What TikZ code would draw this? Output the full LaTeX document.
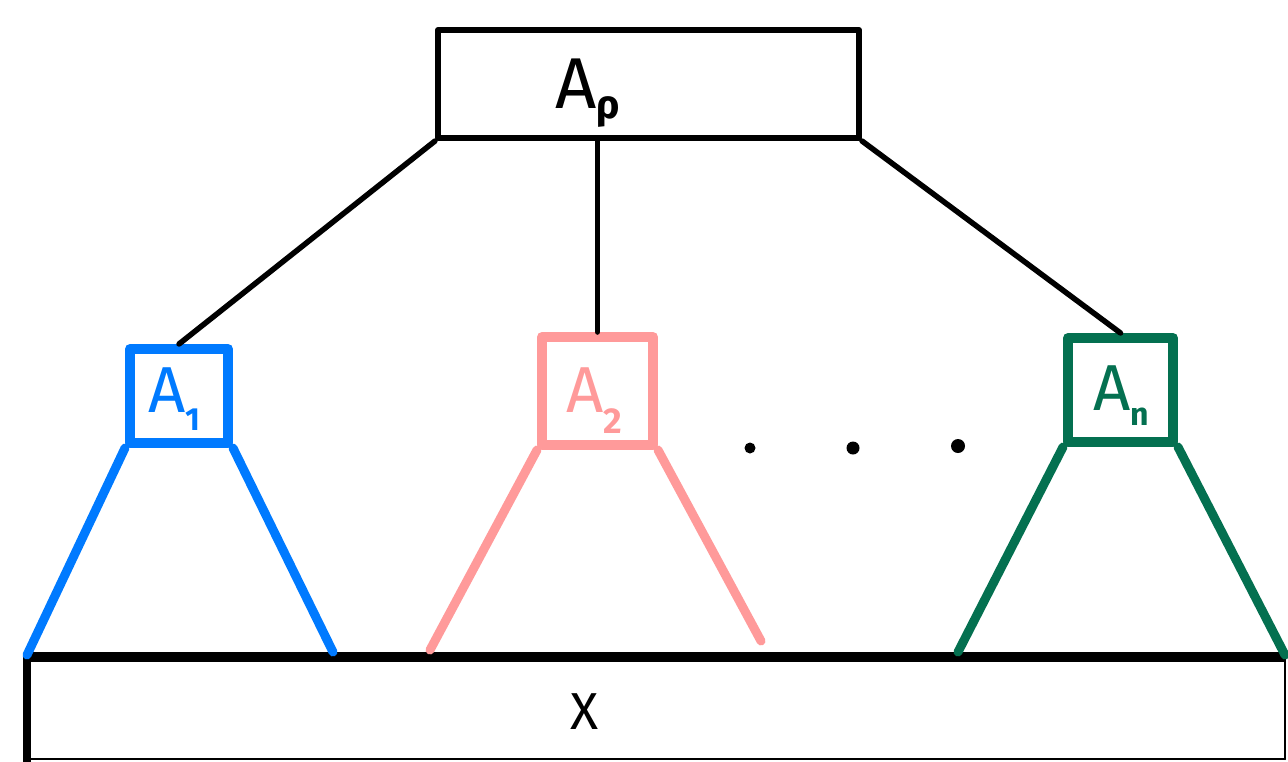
\documentclass[tikz,border=0pt]{standalone}
\usepackage{fontspec}
\setmainfont{Fira Sans}
\definecolor{cblue}{RGB}{0,122,255}
\definecolor{cpink}{RGB}{255,154,154}
\definecolor{cgreen}{RGB}{4,112,80}
\begin{document}
\begin{tikzpicture}[x=1pt,y=-1pt,
  line cap=round, line join=round,
  topbox/.style={draw, rectangle, inner sep=0pt, line width=6pt},
  subbox/.style={draw, rectangle, inner sep=0pt, line width=10pt},
  conn/.style={draw, line width=5.5pt},
  leg/.style={draw, line width=9pt},
  lab/.style={anchor=base west, inner sep=0pt, font=\fontsize{65}{70}\selectfont},
  dotmark/.style={fill=black}]
\useasboundingbox (0,0) rectangle (1288,761);
% top box
\node[topbox, minimum width=421pt, minimum height=108pt] (top) at (648.5,84) {};
\node[lab, font=\fontsize{72}{80}\selectfont] (toplab) at (555,108) {A\raisebox{-10pt}{\fontsize{40}{40}\selectfont\bfseries ρ}};
% sub boxes
\node[subbox, cblue, minimum width=98pt, minimum height=94pt] (a1) at (179,396) {};
\node[lab, text=cblue] (a1lab) at (148,412) {A\raisebox{-18pt}{\fontsize{32}{32}\selectfont\bfseries 1}};
\node[subbox, cpink, minimum width=111pt, minimum height=108pt] (a2) at (597.5,391) {};
\node[lab, text=cpink] (a2lab) at (566,412) {A\raisebox{-21pt}{\fontsize{36}{36}\selectfont\bfseries 2}};
\node[subbox, cgreen, minimum width=105pt, minimum height=104pt] (an) at (1120.5,390) {};
\node[lab, text=cgreen] (anlab) at (1093,410) {A\raisebox{-15pt}{\fontsize{32}{32}\selectfont\bfseries n}};
% connectors from top
\draw[conn] (top.south west) -- (a1.north);
\draw[conn] (top.south -| a2.north) -- (a2.north);
\draw[conn] (top.south east) -- (an.north);
% dots
\fill[dotmark] (750,448) circle (5.5);
\fill[dotmark] (853,448) circle (6.5);
\fill[dotmark] (958,446) circle (7);
% bottom box
\coordinate (xnw) at (27,657);
\coordinate (xne) at (1285,657);
\coordinate (xsw) at (27,759);
\coordinate (xse) at (1285,759);
\node[font=\fontsize{52}{55}\selectfont, inner sep=0pt] (xlab) at (585,712) {X};
\draw[line width=10pt, line cap=butt] (xnw) -- (xne);
\draw[line width=8pt, line cap=butt] (xnw) -- (27,770);
\draw[line width=2pt] (xne) -- (xse);
\draw[line width=2pt] (xsw) -- (xse);
% legs
\coordinate (b1l) at (27,655);
\coordinate (b1r) at (333,652);
\coordinate (b2l) at (430,650);
\coordinate (b2r) at (761,641);
\coordinate (bnl) at (958,652);
\coordinate (bnr) at (1285,655);
\draw[leg, cblue] (a1.south west) -- (b1l);
\draw[leg, cblue] (a1.south east) -- (b1r);
\draw[leg, cpink] (a2.south west) -- (b2l);
\draw[leg, cpink] (a2.south east) -- (b2r);
\draw[leg, cgreen] (an.south west) -- (bnl);
\draw[leg, cgreen] (an.south east) -- (bnr);
\end{tikzpicture}
\end{document}
